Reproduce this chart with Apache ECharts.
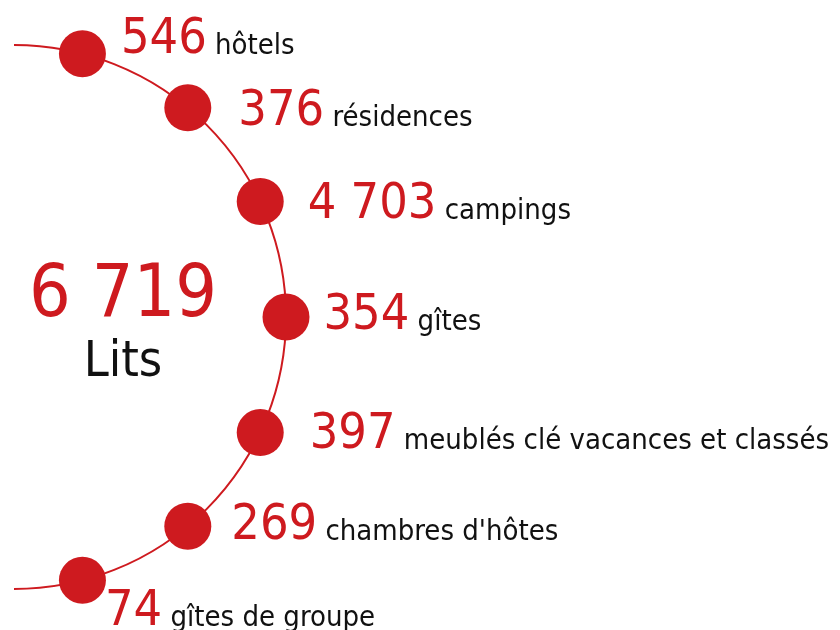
<!DOCTYPE html>
<html>
<head>
<meta charset="utf-8">
<script src="https://cdn.jsdelivr.net/npm/echarts@6/dist/echarts.min.js"></script>
<style>
  html, body { margin: 0; padding: 0; background: #fff; }
  #chart { width: 840px; height: 630px; }
</style>
</head>
<body>
<div id="chart"></div>
<script>
const names = ['hôtels', 'résidences', 'campings', 'gîtes', 'meublés clé vacances et classés', "chambres d'hôtes", 'gîtes de groupe']
const counts = [546, 376, 4703, 354, 397, 269, 74]
const unitLabel = 'Lits'

// label nudges (px) per point, the reference doesn't place them evenly
const labelOffsets = [[-5, -14], [7, 4], [4, 4], [-6, -1], [6, 2], [0, 0], [-21, 32]]

const RED = '#ce1a1f'
const FONT = '"DejaVu Sans Condensed", "Liberation Sans Narrow", sans-serif'

const fmt = v => String(v).replace(/\B(?=(\d{3})+(?!\d))/g, ' ')
const total = counts.reduce((a, b) => a + b, 0)

const CENTER = [14, 317]
const R = 272

const hiddenAxisParts = {
  axisTick: { show: false },
  axisLabel: { show: false },
  splitLine: { show: false }
}

const chart = echarts.init(document.getElementById('chart'))

const option = {
  animation: false,
  title: {
    text: `{a|${fmt(total)}}\n{b|${unitLabel}}`,
    left: 118,
    top: 254,
    textAlign: 'center',
    textStyle: {
      rich: {
        a: { fontFamily: FONT, fontSize: 73, fontWeight: 'normal', color: RED, lineHeight: 76, align: 'center' },
        b: { fontFamily: FONT, fontSize: 50, fontWeight: 'normal', color: '#111', lineHeight: 56, align: 'center' }
      }
    }
  },
  // polar 0 draws the half-circle, polar 1 spreads the dots a bit tighter
  polar: [
    { center: CENTER, radius: R },
    { center: CENTER, radius: R }
  ],
  angleAxis: [
    {
      polarIndex: 0,
      type: 'value',
      min: 0,
      max: 180,
      startAngle: 90,
      endAngle: -90,
      clockwise: true,
      axisLine: { show: true, lineStyle: { color: RED, width: 2 } },
      ...hiddenAxisParts
    },
    {
      polarIndex: 1,
      type: 'category',
      data: names,
      startAngle: 88,
      endAngle: -88,
      clockwise: true,
      boundaryGap: true,
      axisLine: { show: false },
      ...hiddenAxisParts
    }
  ],
  radiusAxis: [
    { polarIndex: 0, type: 'value', min: 0, max: 1, show: false },
    { polarIndex: 1, type: 'value', min: 0, max: 1, show: false }
  ],
  series: [
    {
      type: 'scatter',
      coordinateSystem: 'polar',
      polarIndex: 1,
      symbol: 'circle',
      symbolSize: 47,
      itemStyle: { color: RED, opacity: 1 },
      emphasis: { disabled: true },
      data: counts.map((c, i) => ({
        value: [1, i],
        label: { offset: labelOffsets[i] }
      })),
      label: {
        show: true,
        position: 'right',
        distance: 20,
        formatter: p => `{n|${fmt(counts[p.dataIndex])}}{t| ${names[p.dataIndex]}}`,
        rich: {
          n: { fontFamily: FONT, fontSize: 50, color: RED, lineHeight: 50, verticalAlign: 'bottom' },
          t: { fontFamily: FONT, fontSize: 29, color: '#111', lineHeight: 29, verticalAlign: 'bottom', padding: [0, 0, 4, 0] }
        }
      }
    }
  ]
}

chart.setOption(option)
</script>
</body>
</html>
